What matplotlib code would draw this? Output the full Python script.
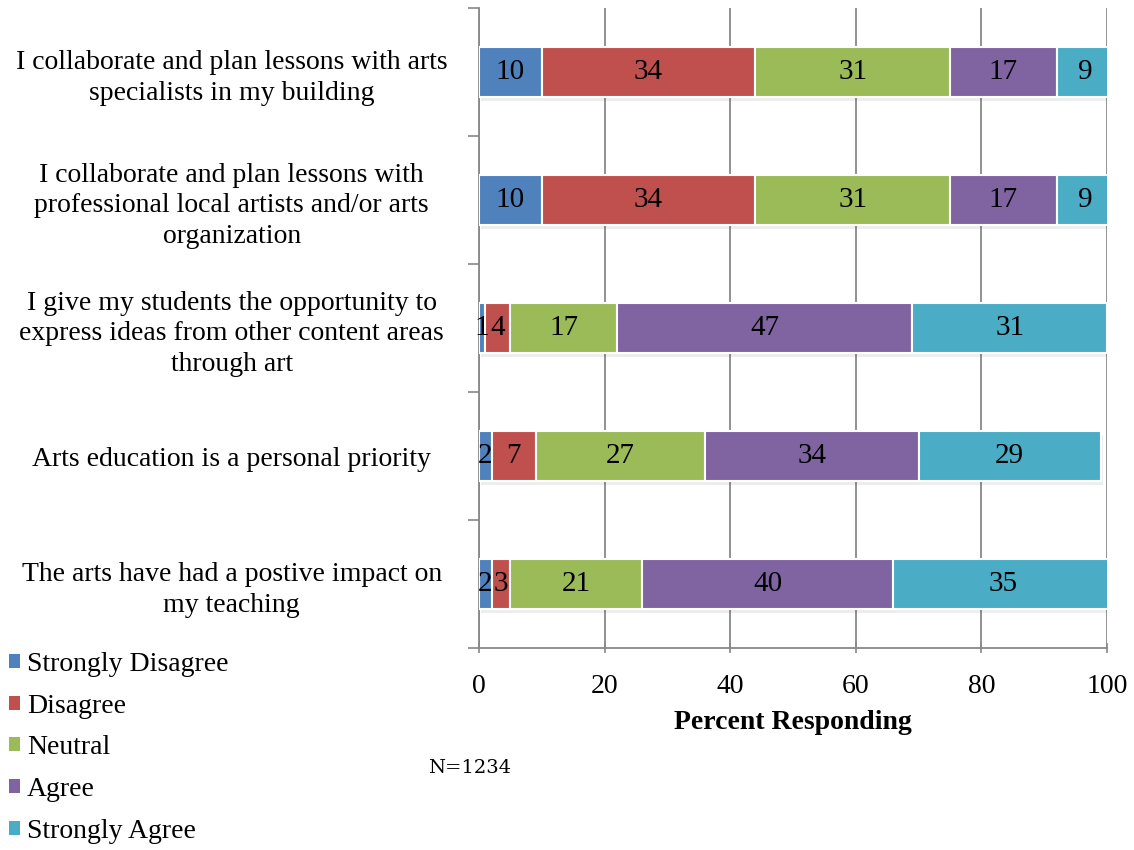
"""
Stacked horizontal bar chart of survey responses about arts education
"""
import matplotlib.pyplot as plt
import matplotlib.patheffects as pe
from matplotlib.patches import Patch
import numpy as np


statements = [
    "I collaborate and plan lessons with arts\nspecialists in my building",
    "I collaborate and plan lessons with\nprofessional local artists and/or arts\norganization",
    "I give my students the opportunity to\nexpress ideas from other content areas\nthrough art",
    "Arts education is a personal priority",
    "The arts have had a postive impact on\nmy teaching",
]
responses = ["Strongly Disagree", "Disagree", "Neutral", "Agree", "Strongly Agree"]

strongly_disagree = [10, 10, 1, 2, 2]
disagree = [34, 34, 4, 7, 3]
neutral = [31, 31, 17, 27, 21]
agree = [17, 17, 47, 34, 40]
strongly_agree = [9, 9, 31, 29, 35]

colors = ["#4F81BD", "#C0504D", "#9BBB59", "#8064A2", "#4BACC6"]

plt.rcParams["font.family"] = ["Liberation Serif", "DejaVu Serif"]

fig = plt.figure(figsize=(11.34, 8.5), dpi=100)
ax = fig.add_axes([0.4224, 0.2376, 0.5538, 0.753])

y = np.arange(len(statements))
left = np.zeros(len(statements))
shadow = [pe.SimplePatchShadow(offset=(1.5, -3), alpha=0.08), pe.Normal()]
for values, color in zip([strongly_disagree, disagree, neutral, agree, strongly_agree], colors):
    values = np.array(values)
    bars = ax.barh(y, values, left=left, height=0.39, color=color,
                   edgecolor="white", linewidth=1.5, zorder=3)
    for bar in bars:
        bar.set_path_effects(shadow)
    for yi, l, v in zip(y, left, values):
        ax.text(l + v / 2, yi, str(v), ha="center", va="center",
                fontsize=21, color="black", zorder=4)
    left += values

ax.set_xlim(0, 100)
ax.set_ylim(len(statements) - 0.5, -0.5)
ax.set_xticks(np.arange(0, 101, 20))
ax.tick_params(axis="x", labelsize=20, length=7, width=1.2, color="#888888",
               pad=15, direction="inout")
ax.set_yticks(y)
ax.set_yticklabels(statements, fontsize=20, linespacing=1.3, ha="center")
ax.tick_params(axis="y", length=0, pad=178)
ax.set_yticks(np.arange(-0.5, len(statements)), minor=True)
ax.tick_params(axis="y", which="minor", length=8, width=1.2, color="#888888")

ax.grid(axis="x", color="#888888", linewidth=1.3, zorder=0)
ax.set_axisbelow(True)
for side in ["top", "right"]:
    ax.spines[side].set_visible(False)
for side in ["left", "bottom"]:
    ax.spines[side].set_color("#888888")
    ax.spines[side].set_linewidth(1.3)

ax.set_xlabel("Percent Responding", fontsize=20, fontweight="bold", labelpad=8)

handles = [Patch(facecolor=c, edgecolor="none") for c in colors]
fig.legend(handles, responses, loc="upper left", bbox_to_anchor=(0.008, 0.233),
           frameon=False, fontsize=20, handlelength=0.4, handleheight=0.4,
           handletextpad=0.25, labelspacing=0.6, borderaxespad=0, borderpad=0)

fig.text(0.4145, 0.097, "N=1234", fontsize=14, ha="center", va="center",
         family="DejaVu Serif")

fig.savefig("out.png", dpi=100)
